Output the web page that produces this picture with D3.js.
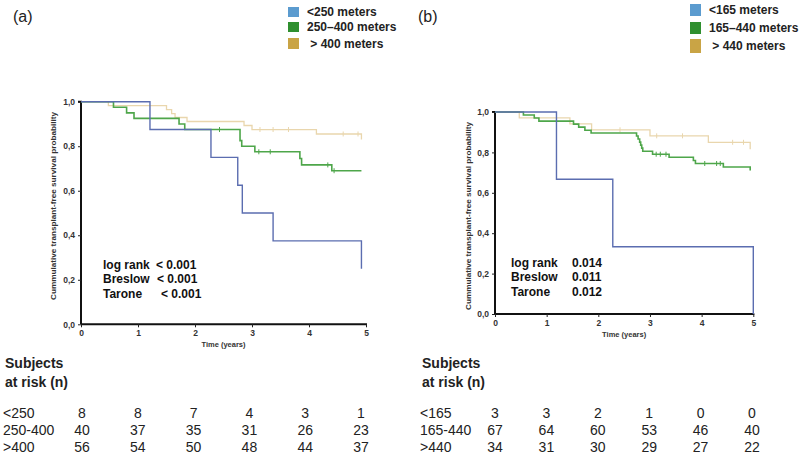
<!DOCTYPE html>
<html><head><meta charset="utf-8">
<script src="https://cdn.jsdelivr.net/npm/d3@7"></script>
<style>body{margin:0;background:#fff}svg{display:block;font-family:"Liberation Sans",Arial,sans-serif}</style>
</head><body><svg id="c" width="800" height="457"></svg>
<script>
// ---------- data ----------
const timeTicks = [0, 1, 2, 3, 4, 5];
const yTicks = [0, 0.2, 0.4, 0.6, 0.8, 1.0];

const aLegend = ["<250 meters", "250\u2013400 meters", " > 400 meters"];
const bLegend = ["<165 meters", "165\u2013440 meters", " > 440 meters"];

const aBlueT = [0, 1.21, 2.28, 2.75, 2.83, 3.37, 4.92];
const aBlueS = [1, 0.875, 0.75, 0.625, 0.5, 0.375, 0.25];
const aGreenT = [0, 0.57, 0.80, 0.93, 1.72, 1.82, 2.79, 2.82, 3.05, 3.84, 3.87, 4.40, 4.92];
const aGreenS = [1, 0.975, 0.95, 0.925, 0.90, 0.875, 0.825, 0.80, 0.775, 0.745, 0.716, 0.69, 0.69];
const aGreenCens = [2.43, 3.12, 3.32, 4.33, 4.44];
const aTanT = [0, 0.48, 1.50, 1.59, 1.65, 1.86, 2.86, 3.0, 4.13, 4.92];
const aTanS = [1, 0.982, 0.964, 0.946, 0.929, 0.911, 0.893, 0.875, 0.855, 0.83];
const aTanCens = [3.14, 3.37, 3.64, 4.6, 4.86];

const bBlueT = [0, 1.19, 2.28, 5.0];
const bBlueS = [1, 0.667, 0.333, 0];
const bGreenT = [0, 0.55, 0.76, 0.85, 1.52, 1.62, 1.74, 1.86, 2.74, 2.77, 2.80, 2.82, 2.84, 2.86, 3.05, 3.37, 3.84, 3.88, 4.42, 4.94];
const bGreenS = [1, 0.985, 0.97, 0.955, 0.94, 0.925, 0.91, 0.896, 0.881, 0.866, 0.851, 0.836, 0.821, 0.806, 0.791, 0.776, 0.76, 0.745, 0.728, 0.71];
const bGreenCens = [3.12, 3.2, 3.31, 4.06, 4.29, 4.36];
const bTanT = [0, 0.47, 1.45, 1.87, 3.0, 4.13, 4.94];
const bTanS = [1, 0.971, 0.941, 0.912, 0.882, 0.85, 0.815];
const bTanCens = [2.42, 3.13, 3.63, 4.6, 4.81];

const aTests = ["log rank", "Breslow", "Tarone"];
const aPvals = ["< 0.001", "< 0.001", "< 0.001"];
const bTests = ["log rank", "Breslow", "Tarone"];
const bPvals = ["0.014", "0.011", "0.012"];

const aRiskLabels = ["<250", "250-400", ">400"];
const aRisk = [[8, 8, 7, 4, 3, 1], [40, 37, 35, 31, 26, 23], [56, 54, 50, 48, 44, 37]];
const bRiskLabels = ["<165", "165-440", ">440"];
const bRisk = [[3, 3, 2, 1, 0, 0], [67, 64, 60, 53, 46, 40], [34, 31, 30, 29, 27, 22]];

// ---------- styles ----------
const lineCol = {blue: "#5b6db0", green: "#4ea64a", tan: "#e9d6ad"};
const legCol = ["#5b9bcf", "#2f8f2f", "#c9a445"];
const svg = d3.select("#c");
const yTitle = "Cummulative transplant-free survival probability";

function panel(cfg) {
  const x = d3.scaleLinear().domain([0, 5]).range([cfg.x0, cfg.x1]);
  const y = d3.scaleLinear().domain([0, 1]).range([cfg.yb, cfg.yt]);
  const g = svg.append("g");

  g.append("text").attr("x", cfg.labX).attr("y", 22).attr("font-size", 16).attr("fill", "#222").text(cfg.label);

  cfg.legend.forEach((t, i) => {
    g.append("rect").attr("x", cfg.legX).attr("y", cfg.legY[i]).attr("width", 11).attr("height", cfg.legH[i]).attr("fill", legCol[i]);
    g.append("text").attr("x", cfg.legX + 19).attr("y", cfg.legY[i] + cfg.legH[i] / 2 + 4.3)
      .attr("font-size", 12).attr("font-weight", "bold").attr("fill", "#222").attr("xml:space", "preserve").text(t);
  });

  const yAx = g.append("g").attr("transform", `translate(${cfg.x0},0)`)
    .call(d3.axisLeft(y).tickValues(yTicks).tickSize(3).tickFormat(d => d3.format(".1f")(d).replace(".", ",")));
  const xAx = g.append("g").attr("transform", `translate(0,${cfg.yb})`)
    .call(d3.axisBottom(x).tickValues(timeTicks).tickSize(3).tickFormat(d3.format("d")));
  [yAx, xAx].forEach(a => {
    a.select(".domain").attr("stroke", "#111").attr("stroke-width", 2);
    a.selectAll(".tick line").attr("stroke", "#222");
    a.selectAll("text").attr("font-size", 8.5).attr("font-weight", "bold").attr("fill", "#333")
      .attr("font-family", "'Liberation Sans',Arial,sans-serif");
  });
  yAx.select(".domain").attr("d", `M-3,${cfg.yt}H0V${cfg.yb}`);
  xAx.select(".domain").attr("d", `M${cfg.x0},0H${cfg.x1 + 1}`);

  g.append("text").attr("x", (cfg.x0 + cfg.x1) / 2).attr("y", cfg.yb + 23).attr("text-anchor", "middle")
    .attr("font-size", 7.5).attr("font-weight", "bold").attr("fill", "#333").text("Time (years)");
  g.append("text").attr("transform", `translate(${cfg.ytX},${cfg.ytY}) rotate(-90)`).attr("text-anchor", "middle")
    .attr("font-size", 8).attr("font-weight", "bold").attr("fill", "#333")
    .attr("textLength", 188).attr("lengthAdjust", "spacingAndGlyphs").text(yTitle);

  const line = d3.line().x(d => x(d[0])).y(d => y(d[1])).curve(d3.curveStepAfter);
  cfg.series.forEach(s => {
    const pts = s.t.map((t, i) => [t, s.s[i]]);
    g.append("path").attr("d", line(pts)).attr("fill", "none").attr("stroke", s.col).attr("stroke-width", s.w);
    (s.cens || []).forEach(c => {
      const i = d3.bisectRight(s.t, c) - 1;
      g.append("line").attr("x1", x(c)).attr("x2", x(c)).attr("y1", y(s.s[i]) - 2.5).attr("y2", y(s.s[i]) + 2.5)
        .attr("stroke", s.col).attr("stroke-width", 1);
    });
  });

  cfg.tests.forEach((t, i) => {
    const yy = cfg.testY + i * 14.3;
    g.append("text").attr("x", cfg.testX).attr("y", yy).attr("font-size", 12).attr("font-weight", "bold").attr("fill", "#111").text(t);
    g.append("text").attr("x", cfg.pX[i]).attr("y", yy).attr("font-size", 12).attr("font-weight", "bold").attr("fill", "#111").text(cfg.pvals[i]);
  });

  g.append("text").attr("x", cfg.tabX).attr("y", 368).attr("font-size", 14).attr("font-weight", "bold").attr("fill", "#222").text("Subjects");
  g.append("text").attr("x", cfg.tabX).attr("y", 387).attr("font-size", 14).attr("font-weight", "bold").attr("fill", "#222").text("at risk (n)");
  const col = d3.scalePoint().domain(timeTicks).range(cfg.colRange);
  cfg.riskLabels.forEach((l, r) => {
    const yy = 418 + r * 17;
    g.append("text").attr("x", cfg.tabX - 2).attr("y", yy).attr("font-size", 14).attr("fill", "#222").text(l);
    cfg.risk[r].forEach((v, k) => {
      g.append("text").attr("x", col(timeTicks[k])).attr("y", yy).attr("text-anchor", "middle").attr("font-size", 14).attr("fill", "#222").text(v);
    });
  });
}

panel({
  label: "(a)", labX: 13, x0: 81, x1: 366, yt: 101.7, yb: 324.3,
  legend: aLegend, legX: 288, legY: [7, 22, 38], legH: [10, 10, 11],
  ytX: 56, ytY: 206,
  series: [
    {t: aTanT, s: aTanS, col: lineCol.tan, w: 1.3, cens: aTanCens},
    {t: aGreenT, s: aGreenS, col: lineCol.green, w: 1.6, cens: aGreenCens},
    {t: aBlueT, s: aBlueS, col: lineCol.blue, w: 1.4}
  ],
  tests: aTests, pvals: aPvals, testX: 103, testY: 269, pX: [156, 157, 161],
  tabX: 5, riskLabels: aRiskLabels, risk: aRisk, colRange: [82, 361]
});

panel({
  label: "(b)", labX: 418, x0: 495, x1: 753.3, yt: 112, yb: 314,
  legend: bLegend, legX: 690, legY: [4, 22, 39], legH: [12, 12, 14],
  ytX: 471, ytY: 216,
  series: [
    {t: bTanT, s: bTanS, col: lineCol.tan, w: 1.3, cens: bTanCens},
    {t: bGreenT, s: bGreenS, col: lineCol.green, w: 1.6, cens: bGreenCens},
    {t: bBlueT, s: bBlueS, col: lineCol.blue, w: 1.4}
  ],
  tests: bTests, pvals: bPvals, testX: 511, testY: 267, pX: [572, 572, 572],
  tabX: 422, riskLabels: bRiskLabels, risk: bRisk, colRange: [495, 752]
});
</script></body></html>
